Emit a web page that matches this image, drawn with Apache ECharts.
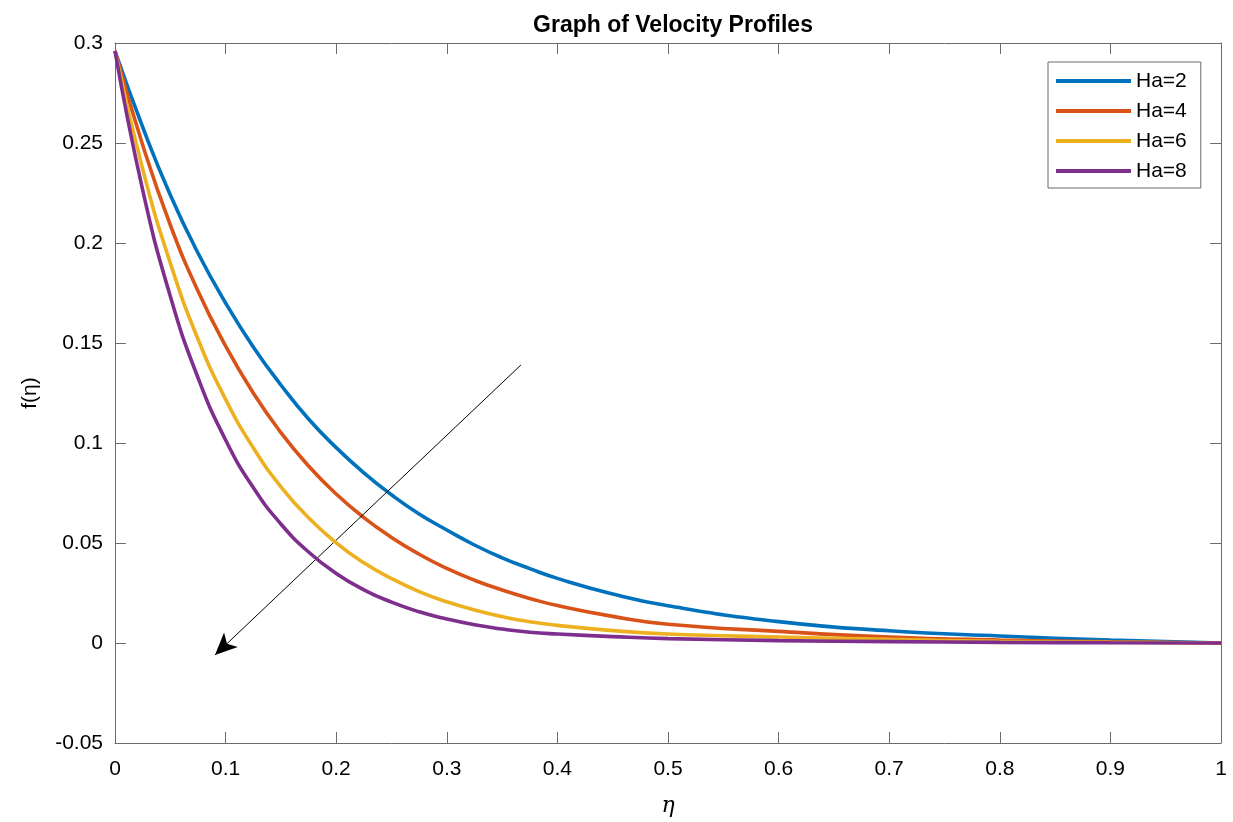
<!DOCTYPE html>
<html>
<head>
<meta charset="utf-8">
<title>Graph of Velocity Profiles</title>
<script src="https://cdn.jsdelivr.net/npm/echarts@6/dist/echarts.min.js"></script>
<style>
  html, body { margin: 0; padding: 0; background: #fff; }
  #velChart { width: 1233px; height: 822px; }
</style>
</head>
<body>
<div id="velChart"></div>
<script>
// eta sample points and f(eta) values
const eta = [0, 0.025, 0.05, 0.075, 0.1, 0.125, 0.15, 0.175, 0.2, 0.225, 0.25, 0.275, 0.3, 0.325, 0.35, 0.375, 0.4, 0.45, 0.5, 0.6, 0.7, 0.8, 0.9, 1];
const ha2 = [0.296, 0.258, 0.224, 0.195, 0.170, 0.148, 0.129, 0.112, 0.0977, 0.0851, 0.0741, 0.0645, 0.0565, 0.049, 0.0426, 0.0372, 0.0323, 0.0245, 0.0186, 0.0107, 0.0061, 0.0035, 0.0015, 0];
const ha4 = [0.296, 0.249, 0.209, 0.176, 0.1485, 0.125, 0.1052, 0.0885, 0.0745, 0.0627, 0.0528, 0.0444, 0.0373, 0.0314, 0.0265, 0.0223, 0.0187, 0.0133, 0.0094, 0.0058, 0.003, 0.0015, 0.0006, 0];
const ha6 = [0.296, 0.237, 0.190, 0.152, 0.1218, 0.0976, 0.0781, 0.0626, 0.0501, 0.0401, 0.0322, 0.0257, 0.0206, 0.0165, 0.0132, 0.0106, 0.0088, 0.0062, 0.0045, 0.003, 0.0018, 0.0009, 0.0004, 0];
const ha8 = [0.296, 0.2266, 0.1734, 0.1327, 0.1015, 0.0777, 0.0595, 0.0455, 0.0348, 0.0266, 0.0204, 0.0156, 0.012, 0.0091, 0.007, 0.0054, 0.0045, 0.0032, 0.0022, 0.0012, 0.0007, 0.0003, 0.0001, 0];
const seriesNames = ['Ha=2', 'Ha=4', 'Ha=6', 'Ha=8'];
const seriesValues = [ha2, ha4, ha6, ha8];
const colors = ['#0072BD', '#D95319', '#EDB120', '#7E2F8E'];
// annotation arrow, in data coordinates (tail -> head)
const arrowFrom = [0.367, 0.139];
const arrowTo = [0.0904, -0.006];

const font = 'Liberation Sans, Arial, Helvetica, sans-serif';
const boxColor = '#6b6b6b';

const pairs = (ys) => eta.map((x, i) => [x, ys[i]]);

// ticks drawn inside on all four sides, like a boxed matlab axes
const tickIn = { show: true, inside: true, length: 11, lineStyle: { color: boxColor, width: 1 } };
const boxLine = { show: true, onZero: false, lineStyle: { color: boxColor, width: 1 } };

const series = seriesValues.map((ys, i) => ({
  name: seriesNames[i],
  type: 'line',
  data: pairs(ys),
  smooth: true,
  showSymbol: false,
  silent: true,
  lineStyle: { color: colors[i], width: 3.6 },
  itemStyle: { color: colors[i] },
  z: 3 + i
}));

// the arrow sits on the first series as a markLine
series[0].markLine = {
  silent: true,
  symbol: ['none', 'arrow'],
  symbolSize: [15, 22],
  label: { show: false },
  lineStyle: { color: '#000', width: 1, type: 'solid' },
  data: [[{ coord: arrowFrom }, { coord: arrowTo }]]
};

const option = {
  animation: false,
  backgroundColor: '#fff',
  textStyle: { fontFamily: font },
  title: {
    text: 'Graph of Velocity Profiles',
    left: 668,
    textAlign: 'center',
    top: 9,
    textStyle: { fontFamily: font, fontSize: 23, fontWeight: 'bold', color: '#000' }
  },
  legend: {
    orient: 'vertical',
    left: 1048,
    top: 62,
    padding: [7, 14, 5, 8],
    itemWidth: 75,
    itemHeight: 4,
    itemGap: 6,
    icon: 'rect',
    selectedMode: false,
    borderColor: boxColor,
    borderWidth: 1,
    backgroundColor: '#fff',
    textStyle: { fontFamily: font, fontSize: 21, color: '#000', lineHeight: 24 },
    data: seriesNames
  },
  grid: { left: 115, top: 43, right: 12, bottom: 77, containLabel: false },
  xAxis: [
    {
      type: 'value',
      min: 0,
      max: 1,
      interval: 0.1,
      name: 'η',
      nameLocation: 'middle',
      nameGap: 52,
      nameTextStyle: { fontFamily: 'DejaVu Serif, serif', fontStyle: 'italic', fontSize: 22, color: '#000' },
      axisLine: boxLine,
      axisTick: tickIn,
      axisLabel: { fontFamily: font, fontSize: 21, color: '#000', margin: 16 },
      splitLine: { show: false }
    },
    {
      type: 'value',
      position: 'top',
      min: 0,
      max: 1,
      interval: 0.1,
      axisLine: boxLine,
      axisTick: tickIn,
      axisLabel: { show: false },
      splitLine: { show: false }
    }
  ],
  yAxis: [
    {
      type: 'value',
      position: 'left',
      min: -0.05,
      max: 0.3,
      interval: 0.05,
      name: 'f(η)',
      nameLocation: 'middle',
      nameGap: 74,
      nameTextStyle: { fontFamily: font, fontSize: 21, color: '#000' },
      axisLine: boxLine,
      axisTick: tickIn,
      axisLabel: { fontFamily: font, fontSize: 21, color: '#000', margin: 12 },
      splitLine: { show: false }
    },
    {
      type: 'value',
      position: 'right',
      min: -0.05,
      max: 0.3,
      interval: 0.05,
      axisLine: boxLine,
      axisTick: tickIn,
      axisLabel: { show: false },
      splitLine: { show: false }
    }
  ],
  series: series
};

const velChart = echarts.init(document.getElementById('velChart'));
velChart.setOption(option);
window.onresize = function () {
  velChart.resize();
};
</script>
</body>
</html>
